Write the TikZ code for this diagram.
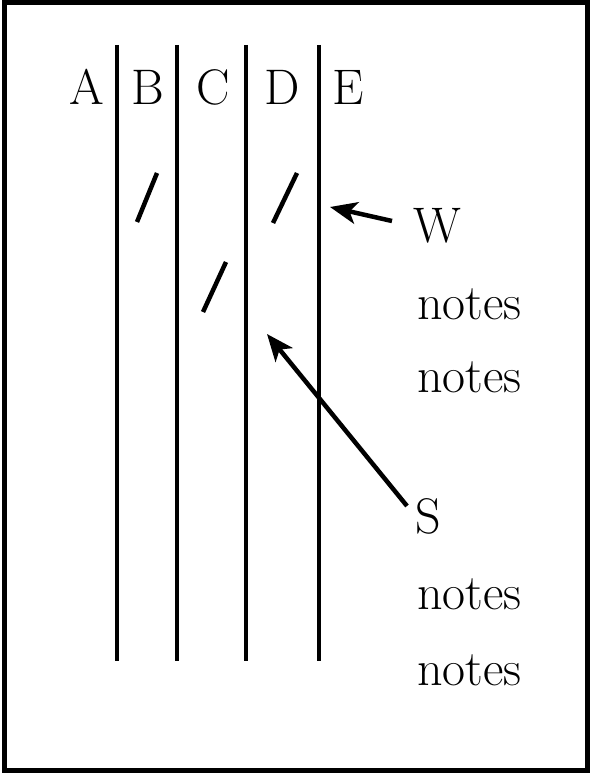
\documentclass[tikz,border=0pt]{standalone}
\usetikzlibrary{arrows.meta}
\begin{document}
\begin{tikzpicture}[x=1pt,y=-1pt,
  lbl/.style={inner sep=0pt,font=\fontsize{50}{56}\selectfont},
  stroke/.style={line width=4.5pt},
  arr/.style={line width=4.5pt,-{Stealth[length=27pt,width=22pt,inset=7pt]}}]
\useasboundingbox (0,0) rectangle (592,775);
\draw[line width=4.5pt] (4.5,2.5) rectangle (587.5,770.5);
% column lines
\foreach \n/\x in {1/117,2/177,3/246,4/319}{
  \coordinate (t\n) at (\x,45);
  \coordinate (b\n) at (\x,661);
  \draw[stroke] (t\n) -- (b\n);
}
% column letters
\node[lbl,anchor=base] (A) at (87,105) {A};
\node[lbl,anchor=base] (B) at (148,105) {B};
\node[lbl,anchor=base] (C) at (213,105) {C};
\node[lbl,anchor=base] (D) at (282,105) {D};
\node[lbl,anchor=base] (E) at (348,105) {E};
% slashes
\draw[stroke] (137,222) -- (157,173);
\draw[stroke] (273,223) -- (297,173);
\draw[stroke] (203,312) -- (226,262);
% labels
\node[lbl,anchor=base west] (W) at (413,243) {W};
\node[lbl,anchor=base west] (n1) at (417,319) {notes};
\node[lbl,anchor=base west] (n2) at (417,392) {notes};
\node[lbl,anchor=base west] (S) at (415,533) {S};
\node[lbl,anchor=base west] (n3) at (417,609) {notes};
\node[lbl,anchor=base west] (n4) at (417,685) {notes};
% arrows
\coordinate (wtail) at (392,221);
\coordinate (wtip) at (330,207);
\coordinate (stail) at (407,506);
\coordinate (stip) at (267,334);
\draw[arr] (wtail) -- (wtip);
\draw[arr] (stail) -- (stip);
\end{tikzpicture}
\end{document}
